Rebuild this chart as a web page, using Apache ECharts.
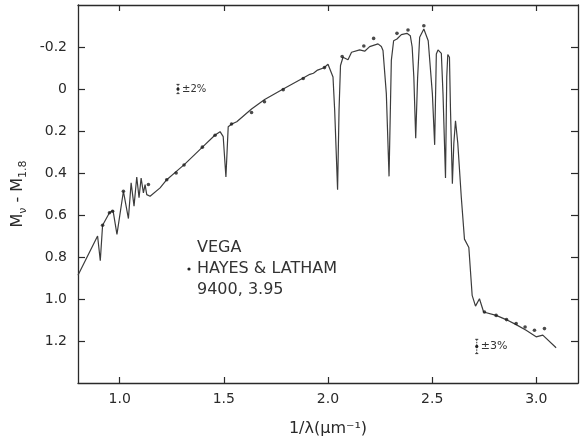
<!DOCTYPE html>
<html>
<head>
<meta charset="utf-8">
<script src="https://cdn.jsdelivr.net/npm/echarts@6/dist/echarts.min.js"></script>
<style>
html,body{margin:0;padding:0;background:#fff;}
#c{width:583px;height:445px;}
</style>
</head>
<body>
<div id="c"></div>
<script>
// Model spectrum (solid line): 1/lambda (um^-1) and M_nu - M_1.8
const specX = [0.80, 0.894, 0.907, 0.918, 0.951, 0.968, 0.987, 1.018, 1.042, 1.055, 1.069, 1.082, 1.093, 1.103, 1.114, 1.122, 1.130, 1.146, 1.154, 1.194, 1.226, 1.282, 1.310, 1.396, 1.458, 1.482, 1.497, 1.510, 1.521, 1.538, 1.562, 1.633, 1.696, 1.785, 1.881, 1.913, 1.930, 1.950, 1.981, 2.000, 2.024, 2.032, 2.046, 2.053, 2.060, 2.072, 2.096, 2.113, 2.152, 2.176, 2.200, 2.240, 2.256, 2.264, 2.280, 2.293, 2.304, 2.315, 2.331, 2.352, 2.379, 2.395, 2.404, 2.412, 2.421, 2.430, 2.440, 2.460, 2.481, 2.501, 2.512, 2.520, 2.528, 2.544, 2.552, 2.564, 2.570, 2.575, 2.583, 2.588, 2.597, 2.604, 2.612, 2.623, 2.640, 2.655, 2.676, 2.692, 2.708, 2.727, 2.747, 2.807, 2.855, 2.903, 2.951, 2.999, 3.031, 3.095];
const specY = [0.887, 0.700, 0.818, 0.649, 0.589, 0.578, 0.692, 0.487, 0.617, 0.447, 0.558, 0.419, 0.518, 0.424, 0.495, 0.455, 0.503, 0.511, 0.518, 0.471, 0.432, 0.384, 0.360, 0.278, 0.219, 0.203, 0.227, 0.419, 0.180, 0.167, 0.156, 0.095, 0.050, 0.000, -0.052, -0.070, -0.075, -0.090, -0.101, -0.118, -0.057, 0.100, 0.480, 0.100, -0.112, -0.151, -0.139, -0.175, -0.186, -0.180, -0.202, -0.215, -0.202, -0.183, 0.022, 0.416, -0.136, -0.230, -0.238, -0.259, -0.265, -0.254, -0.200, -0.057, 0.235, -0.050, -0.246, -0.286, -0.230, 0.022, 0.266, -0.167, -0.186, -0.170, 0.022, 0.424, -0.057, -0.164, -0.151, 0.100, 0.451, 0.258, 0.151, 0.258, 0.518, 0.715, 0.755, 0.983, 1.034, 0.999, 1.062, 1.078, 1.098, 1.122, 1.149, 1.180, 1.172, 1.232];

// Hayes & Latham observations (dots)
const obsX = [0.918, 0.951, 0.966, 1.018, 1.138, 1.226, 1.271, 1.309, 1.397, 1.458, 1.537, 1.633, 1.695, 1.785, 1.881, 1.983, 2.068, 2.172, 2.219, 2.331, 2.384, 2.460, 2.751, 2.807, 2.857, 2.903, 2.946, 2.991, 3.039];
const obsY = [0.649, 0.589, 0.582, 0.487, 0.455, 0.432, 0.400, 0.362, 0.277, 0.220, 0.167, 0.112, 0.061, 0.003, -0.050, -0.102, -0.155, -0.205, -0.241, -0.265, -0.281, -0.301, 1.062, 1.078, 1.098, 1.117, 1.133, 1.149, 1.141];

// Error-bar legends: position x, y, half-height (mag), label
const errX = [1.28, 2.714];
const errY = [0.0, 1.226];
const errE = [0.022, 0.034];
const errLabels = ['±2%', '±3%'];

// Axis ticks
const xTicks = [1.0, 1.5, 2.0, 2.5, 3.0];
const yTicks = [-0.2, 0, 0.2, 0.4, 0.6, 0.8, 1.0, 1.2];

const FONT = 'DejaVu Sans';
const INK = '#2a2a2a';

const chart = echarts.init(document.getElementById('c'), null, {renderer: 'canvas'});

const axisLine = {show: true, onZero: false, lineStyle: {color: INK, width: 1.3}};
const xBase = {
  type: 'value', min: 0.8, max: 3.2,
  axisLine: axisLine, splitLine: {show: false},
  axisTick: {show: true, inside: true, length: 6, customValues: xTicks, lineStyle: {color: INK, width: 1.2}}
};
const yBase = {
  type: 'value', min: -0.4, max: 1.4, inverse: true,
  axisLine: axisLine, splitLine: {show: false},
  axisTick: {show: true, inside: true, length: 7, customValues: yTicks, lineStyle: {color: INK, width: 1.2}}
};

chart.setOption({
  animation: false,
  backgroundColor: '#fff',
  grid: {left: 78, right: 5, top: 5, bottom: 62, containLabel: false},
  xAxis: [
    Object.assign({}, xBase, {
      position: 'bottom',
      axisLabel: {show: true, customValues: xTicks, margin: 9, fontFamily: FONT, fontSize: 14, color: INK,
        formatter: v => v.toFixed(1)},
      name: '1/λ(μm⁻¹)', nameLocation: 'middle', nameGap: 38,
      nameTextStyle: {fontFamily: FONT, fontSize: 16, color: INK}
    }),
    Object.assign({}, xBase, {position: 'top', axisLabel: {show: false}})
  ],
  yAxis: [
    Object.assign({}, yBase, {
      position: 'left',
      axisLabel: {show: true, customValues: yTicks, margin: 11, fontFamily: FONT, fontSize: 14, color: INK,
        formatter: v => Math.abs(v) < 1e-9 ? '0' : v.toFixed(1)},
      name: '{m|M}{s|ν}{m| - M}{s|1.8}', nameLocation: 'middle', nameGap: 48, nameRotate: 90,
      nameTextStyle: {
        fontFamily: FONT, color: INK,
        rich: {
          m: {fontFamily: FONT, fontSize: 16, color: INK, lineHeight: 22, verticalAlign: 'middle'},
          s: {fontFamily: FONT, fontSize: 11, color: INK, lineHeight: 22, verticalAlign: 'bottom', padding: [8, 0, 0, 0]}
        }
      }
    }),
    Object.assign({}, yBase, {position: 'right', axisLabel: {show: false}})
  ],
  series: [
    {
      type: 'line', name: 'model', showSymbol: false, smooth: false,
      data: specX.map((x, i) => [x, specY[i]]),
      lineStyle: {color: '#3c3c3c', width: 1.2},
      z: 2
    },
    {
      type: 'scatter', name: 'Hayes & Latham',
      data: obsX.map((x, i) => [x, obsY[i]]),
      symbol: 'circle', symbolSize: 3.6,
      itemStyle: {color: '#1e1e1e'},
      z: 3
    },
    {
      type: 'custom', name: 'err',
      data: errX.map((x, i) => [x, errY[i], errE[i], i]),
      renderItem: function (params, api) {
        const x = api.value(0), y = api.value(1), e = api.value(2), idx = api.value(3);
        const c = api.coord([x, y]);
        const t = api.coord([x, y - e]);
        const b = api.coord([x, y + e]);
        const st = {stroke: '#333', lineWidth: 1};
        return {
          type: 'group',
          children: [
            {type: 'line', shape: {x1: c[0], y1: t[1], x2: c[0], y2: b[1]}, style: Object.assign({lineDash: [1.5, 1]}, st)},
            {type: 'line', shape: {x1: c[0] - 1.5, y1: t[1], x2: c[0] + 1.5, y2: t[1]}, style: st},
            {type: 'line', shape: {x1: c[0] - 1.5, y1: b[1], x2: c[0] + 1.5, y2: b[1]}, style: st},
            {type: 'circle', shape: {cx: c[0], cy: c[1], r: 1.6}, style: {fill: '#222'}},
            {type: 'text', style: {text: errLabels[idx], x: c[0] + 4, y: c[1], verticalAlign: 'middle', align: 'left',
              fontFamily: FONT, fontSize: idx === 0 ? 10 : 11, fill: '#333'}}
          ]
        };
      },
      z: 4
    }
  ],
  graphic: [
    {type: 'text', left: 197, top: 240, style: {text: 'VEGA', fontFamily: FONT, fontSize: 16, fill: '#333'}},
    {type: 'circle', shape: {cx: 189, cy: 269, r: 1.6}, style: {fill: '#222'}},
    {type: 'text', left: 197, top: 261, style: {text: 'HAYES & LATHAM', fontFamily: FONT, fontSize: 16, fill: '#333'}},
    {type: 'text', left: 197, top: 282, style: {text: '9400, 3.95', fontFamily: FONT, fontSize: 16, fill: '#333'}}
  ]
});
</script>
</body>
</html>
